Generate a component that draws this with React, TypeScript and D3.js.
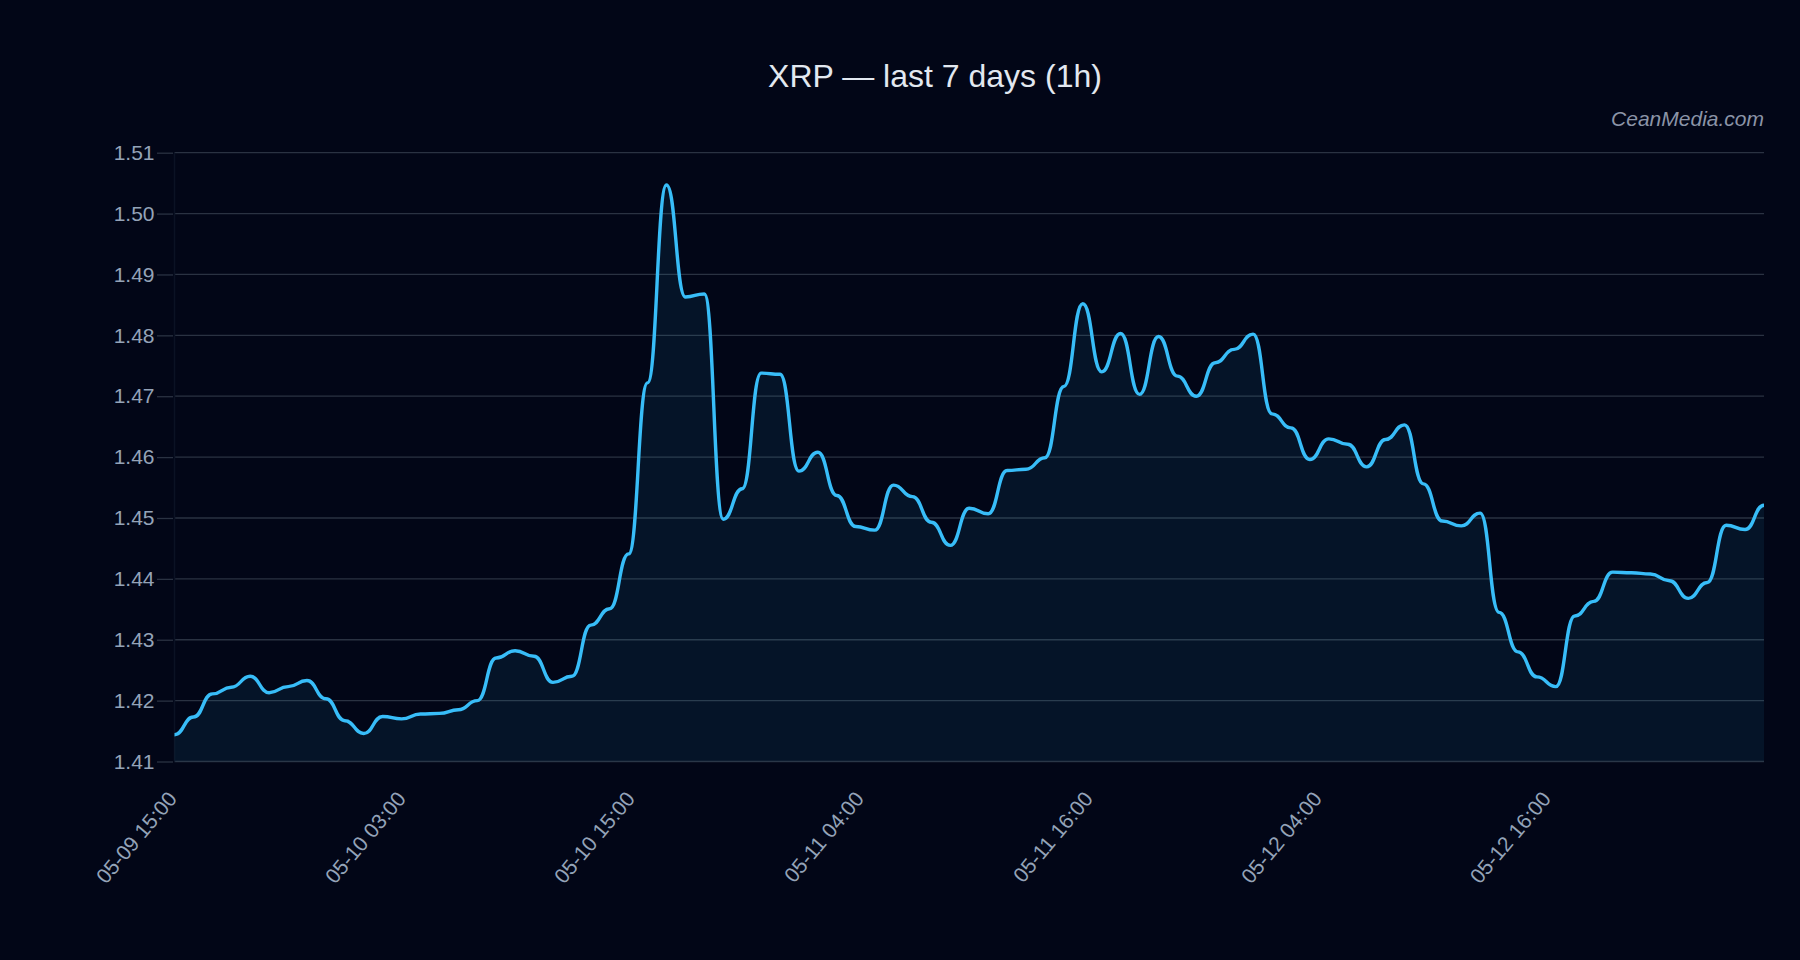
import { useEffect, useRef } from "react";
import * as d3 from "d3";

// XRP hourly closes
const PRICES = [
  1.4144, 1.4173, 1.4211, 1.4222, 1.424, 1.4213, 1.4223, 1.4233, 1.4203, 1.4167,
  1.4146, 1.4174, 1.417, 1.4178, 1.4179, 1.4185, 1.42, 1.427, 1.4282, 1.4273,
  1.423, 1.424, 1.4324, 1.4351, 1.4441, 1.4722, 1.5047, 1.4863, 1.4868, 1.4498,
  1.4548, 1.4738, 1.4736, 1.4577, 1.4608, 1.4537, 1.4486, 1.448, 1.4554, 1.4535,
  1.4493, 1.4455, 1.4516, 1.4507, 1.4578, 1.458, 1.4599, 1.4716, 1.4852, 1.474,
  1.4803, 1.4703, 1.4798, 1.4733, 1.47, 1.4755, 1.4777, 1.4802, 1.4671, 1.4648,
  1.4596, 1.463, 1.4621, 1.4584, 1.4629, 1.4653, 1.4556, 1.4495, 1.4487, 1.4508,
  1.4345, 1.428, 1.4239, 1.4223, 1.4339, 1.4363, 1.4411, 1.441, 1.4408, 1.4397,
  1.4368, 1.4394, 1.4488, 1.4481, 1.4521,
];

const X_LABELS = [
  "05-09 15:00",
  "05-10 03:00",
  "05-10 15:00",
  "05-11 04:00",
  "05-11 16:00",
  "05-12 04:00",
  "05-12 16:00",
];
// labels sit a little over 12 points apart (evenly spaced, named after the nearest hour)
const LABEL_STEP = 12.1;

const Y_TICKS = [1.41, 1.42, 1.43, 1.44, 1.45, 1.46, 1.47, 1.48, 1.49, 1.5, 1.51];

const W = 1800;
const H = 960;
const BG = "#020617";
const LINE = "#38bdf8";
const FONT = "'Liberation Sans', Arial, sans-serif";

export default function App() {
  const ref = useRef<SVGSVGElement | null>(null);

  useEffect(() => {
    if (!ref.current) return;
    const svg = d3.select(ref.current);
    svg.selectAll("*").remove();

    const margin = { top: 152.7, right: 36, bottom: 198.5, left: 174.5 };
    const innerW = W - margin.left - margin.right;
    const innerH = H - margin.top - margin.bottom;

    const x = d3
      .scaleLinear()
      .domain([0, PRICES.length - 1])
      .range([0, innerW]);

    const y = d3
      .scaleLinear()
      .domain([Y_TICKS[0], Y_TICKS[Y_TICKS.length - 1]])
      .range([innerH, 0]);

    svg.append("rect").attr("width", W).attr("height", H).attr("fill", BG);

    // Title + watermark
    svg
      .append("text")
      .attr("x", 935)
      .attr("y", 87)
      .attr("text-anchor", "middle")
      .attr("fill", "#e2e8f0")
      .style("font-family", FONT)
      .style("font-size", "32px")
      .text("XRP — last 7 days (1h)");

    svg
      .append("text")
      .attr("x", margin.left + innerW)
      .attr("y", 126)
      .attr("text-anchor", "end")
      .attr("fill", "#8b94a7")
      .style("font-family", FONT)
      .style("font-style", "italic")
      .style("font-size", "21px")
      .text("CeanMedia.com");

    const g = svg
      .append("g")
      .attr("transform", `translate(${margin.left},${margin.top})`);

    // Gridlines
    g.append("g")
      .selectAll("line")
      .data(Y_TICKS)
      .join("line")
      .attr("x1", 0)
      .attr("x2", innerW)
      .attr("y1", (d) => y(d))
      .attr("y2", (d) => y(d))
      .attr("stroke", "#2a3242")
      .attr("stroke-width", 1.3);

    // Y axis
    const yAxis = g
      .append("g")
      .call(
        d3
          .axisLeft(y)
          .tickValues(Y_TICKS)
          .tickFormat(d3.format(".2f"))
          .tickSize(16)
          .tickPadding(4)
      );
    yAxis
      .select(".domain")
      .attr("stroke", "#0b1224")
      .attr("stroke-width", 1.5)
      .attr("d", `M0,0V${innerH}`);
    yAxis
      .selectAll(".tick line")
      .attr("stroke", "#2a3242")
      .attr("stroke-width", 1.3)
      .attr("transform", "translate(-1.5,0)");
    yAxis
      .selectAll(".tick text")
      .attr("fill", "#94a3b8")
      .style("font-family", FONT)
      .style("font-size", "21px");

    // Area + line
    const area = d3
      .area<number>()
      .x((_, i) => x(i))
      .y0(innerH)
      .y1((d) => y(d))
      .curve(d3.curveBumpX);

    const line = d3
      .line<number>()
      .x((_, i) => x(i))
      .y((d) => y(d))
      .curve(d3.curveBumpX);

    g.append("path")
      .datum(PRICES)
      .attr("d", area)
      .attr("fill", LINE)
      .attr("fill-opacity", 0.08);

    g.append("path")
      .datum(PRICES)
      .attr("d", line)
      .attr("fill", "none")
      .attr("stroke", LINE)
      .attr("stroke-width", 3.4)
      .attr("stroke-linejoin", "round");

    // X labels, rotated
    g.append("g")
      .selectAll("text")
      .data(X_LABELS)
      .join("text")
      .attr(
        "transform",
        (_, k) => `translate(${x(k * LABEL_STEP) - 2},${innerH + 33}) rotate(-50)`
      )
      .attr("text-anchor", "end")
      .attr("dy", "0.35em")
      .attr("fill", "#94a3b8")
      .style("font-family", FONT)
      .style("font-size", "21px")
      .text((d) => d);
  }, []);

  return (
    <div
      style={{
        position: "fixed",
        left: 0,
        top: 0,
        width: W,
        height: H,
        background: BG,
      }}
    >
      <svg ref={ref} width={W} height={H} style={{ display: "block" }} />
    </div>
  );
}
